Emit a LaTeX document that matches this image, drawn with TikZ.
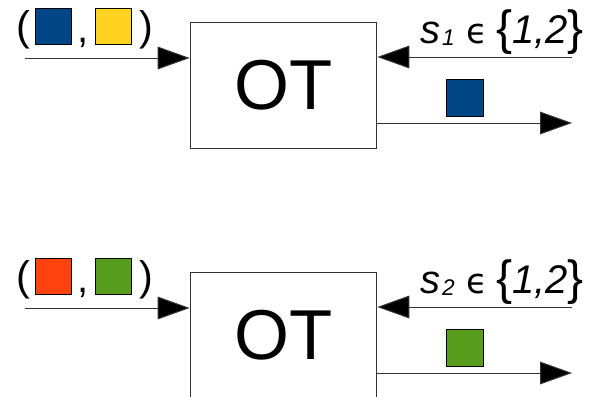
\documentclass[tikz,border=0pt]{standalone}
\usepackage{fontspec}
\setmainfont{Liberation Sans}
\newfontfamily\symfont{DejaVu Sans}
\usetikzlibrary{arrows.meta}
\definecolor{cblue}{HTML}{004586}
\definecolor{cyellow}{HTML}{FFD320}
\definecolor{cred}{HTML}{FF420E}
\definecolor{cgreen}{HTML}{579D1C}
\definecolor{cline}{HTML}{333333}
\tikzset{
  otbox/.style={draw=cline, line width=0.75pt, minimum width=140pt, minimum height=94pt,
    inner sep=0pt, font=\fontsize{53}{53}\selectfont},
  wire/.style={draw=cline, line width=0.75pt, -{Triangle[length=24pt,width=17pt,fill=black]}},
  chip/.style={draw=black, line width=0.75pt, minimum size=27.5pt, inner sep=0pt},
  paren/.style={inner sep=0pt, font=\fontsize{31}{31}\selectfont},
  sel/.style={inner sep=0pt, font=\fontsize{30}{30}\selectfont\itshape, anchor=base east}
}
\newcommand{\selset}[1]{s\kern1pt\raisebox{-1.5pt}{\fontsize{17}{17}\selectfont #1}\hspace{9pt}{\upshape\symfont\fontsize{26}{26}\selectfont ϵ}\hspace{6pt}{\upshape\fontsize{36}{36}\selectfont\raisebox{-1pt}{\{}}1,2{\upshape\fontsize{36}{36}\selectfont\raisebox{-1pt}{\}}}}
\begin{document}
\begin{tikzpicture}[x=0.75pt,y=-0.75pt]
\useasboundingbox (0,0) rectangle (592,396);
\clip (0,0) rectangle (592,396);
\fill[white] (0,0) rectangle (592,396);
\foreach \k/\dy/\ca/\cb/\cr in {1/0/cblue/cyellow/cblue, 2/250/cred/cgreen/cgreen}{
  \begin{scope}[yshift=-\dy*0.75pt]
    \node[otbox] (ot\k) at (283.5,85.5) {OT};
    % input pair label
    \node[paren] (lp\k) at (23,30) {(};
    \node[paren, font=\fontsize{30}{30}\selectfont] (cm\k) at (83,43) {,};
    \node[chip, fill=\ca] (qa\k) at (53.5,26.5) {};
    \node[chip, fill=\cb] (qb\k) at (113.5,26.5) {};
    \node[paren] (rp\k) at (146,30) {)};
    % wires
    \coordinate (in\k) at (25,58);
    \coordinate (sin\k) at (572,57);
    \coordinate (out\k) at (572,123);
    \draw[wire] (in\k) -- (in\k -| ot\k.west);
    \draw[wire] (sin\k) -- (sin\k -| ot\k.east);
    \draw[wire] (out\k -| ot\k.east) -- (out\k);
    \node[chip, fill=\cr] (res\k) at (465,98) {};
    \node[sel] (lab\k) at (584,43) {\selset{\k}};
  \end{scope}
}
\end{tikzpicture}
\end{document}
